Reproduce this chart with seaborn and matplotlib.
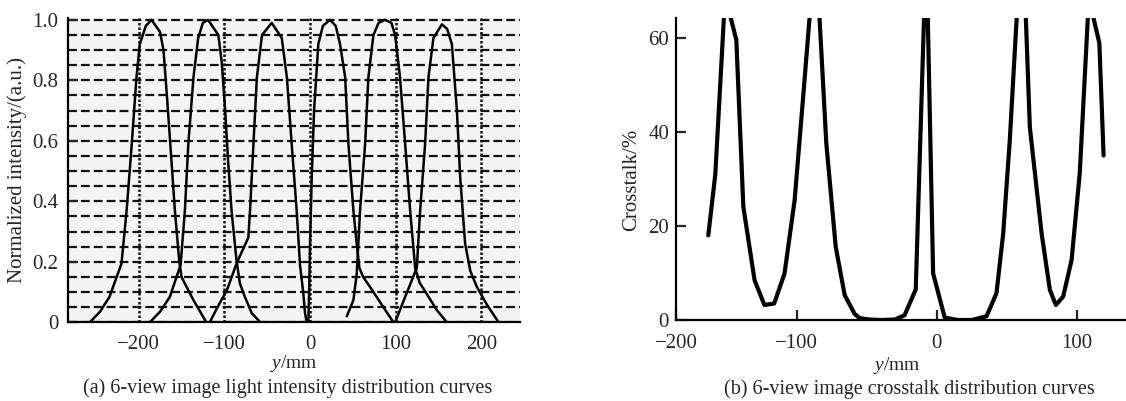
import matplotlib
matplotlib.use("Agg")
import matplotlib.pyplot as plt
from matplotlib.ticker import MultipleLocator
import seaborn as sns
import pandas as pd

# (a) normalized intensity of the 6 views
x1 = [-257, -245, -234, -220, -214, -208, -202.5, -198.6, -191.6, -185, -175, -171, -167, -161.6, -157.7, -152.7, -150, -136, -121]
y1 = [0.0, 0.035, 0.084, 0.194, 0.37, 0.59, 0.81, 0.92, 0.98, 1.0, 0.96, 0.90, 0.75, 0.53, 0.37, 0.205, 0.15, 0.073, 0.0]
x2 = [-187, -175, -163.6, -151, -146, -142, -136, -130.5, -125, -119, -107, -103, -99, -95.5, -91.6, -85.8, -81.8, -76, -68, -58]
y2 = [0.0, 0.035, 0.084, 0.19, 0.37, 0.59, 0.81, 0.94, 0.99, 1.0, 0.95, 0.86, 0.70, 0.53, 0.37, 0.205, 0.128, 0.084, 0.03, 0.0]
x3 = [-117, -108, -97, -85.8, -72, -70, -66, -62, -56, -44.7, -33, -27, -21.4, -15.6, -11.7, -7.8, -5.8, -3.9]
y3 = [0.0, 0.05, 0.106, 0.194, 0.28, 0.37, 0.59, 0.81, 0.95, 0.99, 0.94, 0.81, 0.59, 0.37, 0.19, 0.095, 0.03, 0.0]
x4 = [-2, -1, 0, 2, 4.7, 9.7, 15, 23.4, 30, 35, 41, 44.8, 50.6, 54.5, 57.6, 62, 70, 85.6, 97.3]
y4 = [0.0, 0.1, 0.26, 0.48, 0.70, 0.92, 0.98, 1.0, 0.98, 0.92, 0.81, 0.59, 0.37, 0.26, 0.18, 0.15, 0.117, 0.05, 0.0]
x5 = [42.9, 50.6, 54.5, 58.4, 64.3, 68.1, 74, 80, 87.6, 95, 99.3, 105, 111, 116.8, 122.7, 128, 136, 148, 159.7]
y5 = [0.02, 0.073, 0.16, 0.37, 0.59, 0.81, 0.95, 0.99, 1.0, 0.99, 0.95, 0.81, 0.59, 0.37, 0.18, 0.13, 0.095, 0.04, 0.0]
x6 = [99.3, 111, 124.6, 128.5, 134.3, 138.2, 144, 153.9, 160, 165.5, 171.4, 175.2, 181, 187, 194.7, 206, 220]
y6 = [0.0, 0.084, 0.18, 0.37, 0.59, 0.81, 0.94, 0.985, 0.97, 0.92, 0.70, 0.48, 0.26, 0.17, 0.117, 0.06, 0.0]

# (b) crosstalk, peaks run past the top of the axes
xt = [-163, -158, -151, -143, -138, -130, -123, -116, -108.6, -101.4, -95.5, -86.5, -78.8, -72.1, -65.7,
      -58.6, -55, -48, -40, -30, -23, -15, -7.5, -2.6, 5.7, 15, 25, 35.5, 42.6, 47.4, 52.1, 55.7, 61,
      66.4, 74.8, 80.7, 85, 90.2, 96.2, 102, 108.5, 116, 119]
ct = [18, 31, 69, 59.6, 24.1, 8.5, 3.2, 3.5, 9.9, 25.5, 46.8, 80, 37.6, 15.6, 5.3,
      1.3, 0.4, 0.1, 0.0, 0.1, 1.0, 6.5, 80, 9.9, 0.5, 0.0, 0.0, 0.8, 5.7, 18.4, 38.3, 57.4, 85,
      41, 18.4, 6.4, 3.2, 5.0, 12.8, 31.2, 68.5, 58.9, 35]

xticks_a = [-200, -100, 0, 100, 200]
xticks_b = [-100, 0, 100]
yticks_a = [0, 0.2, 0.4, 0.6, 0.8, 1.0]
yticks_b = [0, 20, 40, 60]

sns.set_theme(style="white")
plt.rcParams["font.family"] = ["Liberation Serif", "DejaVu Serif"]
plt.rcParams["mathtext.fontset"] = "custom"
plt.rcParams["mathtext.rm"] = "Liberation Serif"
plt.rcParams["mathtext.it"] = "Liberation Serif:italic"
plt.rcParams["font.size"] = 15
plt.rcParams["axes.labelsize"] = 15
plt.rcParams["xtick.labelsize"] = 15
plt.rcParams["ytick.labelsize"] = 15

curves = [(x1, y1), (x2, y2), (x3, y3), (x4, y4), (x5, y5), (x6, y6)]
df_a = pd.concat(
    [pd.DataFrame({"y": xs, "I": ys, "view": i + 1}) for i, (xs, ys) in enumerate(curves)],
    ignore_index=True,
)
df_b = pd.DataFrame({"y": xt, "ct": ct})

fig = plt.figure(figsize=(11.26, 4.01), dpi=100)
ax1 = fig.add_axes([0.0607, 0.1963, 0.4011, 0.758])
ax2 = fig.add_axes([0.6004, 0.2020, 0.3996, 0.7524])

# ---- (a)
ax1.set_facecolor("#f4f4f4")
sns.lineplot(data=df_a, x="y", y="I", hue="view", palette=["black"] * 6,
             estimator=None, legend=False, lw=1.8, ax=ax1)
ax1.set_xlim(-282, 245)
ax1.set_ylim(0, 1.005)
ax1.set_xticks(xticks_a)
ax1.set_yticks(yticks_a)
ax1.set_yticklabels(["0", "0.2", "0.4", "0.6", "0.8", "1.0"])
ax1.yaxis.set_minor_locator(MultipleLocator(0.05))
ax1.set_axisbelow(True)
ax1.yaxis.grid(True, which="both", ls=(0, (4, 1.8)), lw=1.6, color="#111111")
ax1.xaxis.grid(True, which="major", ls=(0, (1, 0.8)), lw=1.8, color="#111111")
ax1.tick_params(axis="y", which="major", direction="in", length=7, width=1.6, pad=7, left=True)
ax1.tick_params(axis="y", which="minor", length=0)
ax1.tick_params(axis="x", length=0, pad=9)
ax1.set_xlabel(r"$\mathit{y}$/mm", fontsize=14)
ax1.xaxis.set_label_coords(0.5, -0.102)
ax1.set_ylabel("Normalized intensity/(a.u.)")
ax1.yaxis.set_label_coords(-0.092, 0.5)

# ---- (b)
sns.lineplot(data=df_b, x="y", y="ct", color="black", lw=3, estimator=None, ax=ax2)
ax2.set_xlim(-186, 135)
ax2.set_ylim(0, 64.2)
# the source puts its "-200" label at the left edge of the axis
ax2.set_xticks([-186] + xticks_b)
ax2.set_xticklabels(["\u2212200", "\u2212100", "0", "100"])
ax2.set_yticks(yticks_b)
ax2.tick_params(axis="both", direction="in", length=7, width=1.6, left=True, bottom=True)
ax2.tick_params(axis="x", pad=10)
ax2.tick_params(axis="y", pad=5)
ax2.set_xlabel(r"$\mathit{y}$/mm", fontsize=14)
ax2.xaxis.set_label_coords(0.49, -0.115)
ax2.set_ylabel("Crosstalk/%")
ax2.yaxis.set_label_coords(-0.077, 0.464)

for ax in (ax1, ax2):
    for side in ("top", "right"):
        ax.spines[side].set_visible(False)
    for side in ("left", "bottom"):
        ax.spines[side].set_color("black")
        ax.spines[side].set_linewidth(1.6)

fig.text(0.255, 0.031, "(a) 6-view image light intensity distribution curves",
         ha="center", va="center", fontsize=14.5)
fig.text(0.8077, 0.029, "(b) 6-view image crosstalk distribution curves",
         ha="center", va="center", fontsize=14.5)

fig.savefig("out.png", dpi=100)
